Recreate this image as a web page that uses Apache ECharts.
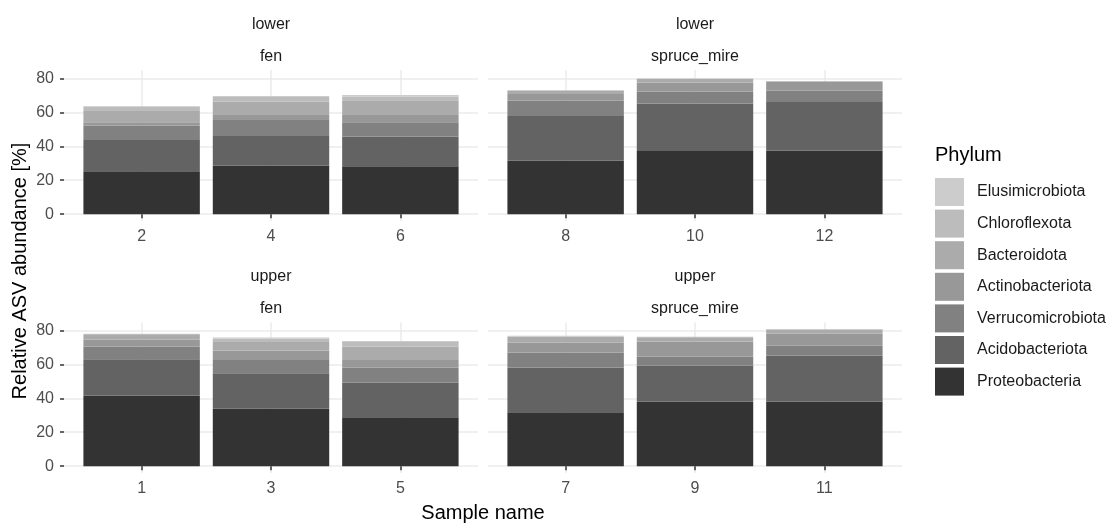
<!DOCTYPE html>
<html>
<head>
<meta charset="utf-8">
<script src="https://cdn.jsdelivr.net/npm/echarts@6/dist/echarts.min.js"></script>
<style>
  html, body { margin: 0; padding: 0; background: #fff; }
  #chart { width: 1114px; height: 524px; }
</style>
</head>
<body>
<div id="chart"></div>
<script>
( () => {
    // phyla, bottom of the stack first
    const phyla = [
        'Proteobacteria',
        'Acidobacteriota',
        'Verrucomicrobiota',
        'Actinobacteriota',
        'Bacteroidota',
        'Chloroflexota',
        'Elusimicrobiota',
    ];

    // relative abundance [%] by sample name 1 .. 12
    const sampleNames = [ '1', '2', '3', '4', '5', '6', '7', '8', '9', '10', '11', '12' ];
    const proteobacteria    = [ 41.5, 25.3, 34.0, 28.6, 28.8, 28.2, 31.7, 31.5, 38.0, 37.2, 38.0, 37.3 ];
    const acidobacteriota   = [ 21.5, 18.4, 20.8, 17.5, 20.4, 17.5, 26.5, 26.3, 21.2, 28.0, 27.2, 28.8 ];
    const verrucomicrobiota = [  7.5,  8.4,  7.8,  9.4,  8.8,  8.4,  8.8,  9.1,  5.4,  6.9,  5.7,  6.6 ];
    const actinobacteriota  = [  4.0,  2.0,  5.4,  2.9,  4.5,  4.3,  5.9,  3.9,  8.9,  5.3,  7.1,  5.5 ];
    const bacteroidota      = [  3.3,  6.7,  5.1,  7.9,  7.9,  8.8,  3.3,  2.0,  2.5,  2.4,  2.6,  0.1 ];
    const chloroflexota     = [  0.1,  2.6,  2.2,  2.8,  2.8,  2.2,  0.4,  0.2,  0.2,  0.1,  0.1,  0.05 ];
    const elusimicrobiota   = [  0.1,  0.3,  0.5,  0.5,  0.6,  0.8,  0.2,  0.1,  0.1,  0.1,  0.1,  0.05 ];

    const values = [
        proteobacteria,
        acidobacteriota,
        verrucomicrobiota,
        actinobacteriota,
        bacteroidota,
        chloroflexota,
        elusimicrobiota,
    ];

    // facets: depth x site
    const facets = [
        { depth: 'lower', site: 'fen',         samples: [ '2', '4', '6' ] },
        { depth: 'lower', site: 'spruce_mire', samples: [ '8', '10', '12' ] },
        { depth: 'upper', site: 'fen',         samples: [ '1', '3', '5' ] },
        { depth: 'upper', site: 'spruce_mire', samples: [ '7', '9', '11' ] },
    ];

    const yTicks = [ 0, 20, 40, 60, 80 ];

    const colors = [ '#333333', '#636363', '#818181', '#989898', '#ababab', '#bcbcbc', '#cccccc' ];
    const font = 'Liberation Sans, Arial, sans-serif';

    const panelLeft = [ 64, 488 ];
    const panelTop = [ 70.2, 322.2 ];
    const panelWidth = 414;
    const panelHeight = 150.8;
    // ggplot pads a discrete axis by 0.6 of a band on each side
    const band = panelWidth / 3.2;

    const grids = [];
    const xAxes = [];
    const yAxes = [];
    const series = [];
    const graphics = [];

    const yRange = { min: -4.04, max: 84.84 };

    facets.forEach( ( f, i ) => {
        const col = i % 2;
        const row = Math.floor( i / 2 );
        const isLeft = col === 0;
        const g = i * 2;

        // full panel: grid lines, ticks, labels
        grids.push( {
            left: panelLeft[ col ],
            top: panelTop[ row ],
            width: panelWidth,
            height: panelHeight,
            outerBoundsMode: 'none',
        } );
        // bar area: three bands in the middle of the panel
        grids.push( {
            left: panelLeft[ col ] + band * 0.1,
            top: panelTop[ row ],
            width: band * 3,
            height: panelHeight,
            outerBoundsMode: 'none',
        } );

        xAxes.push( {
            type: 'value',
            gridIndex: g,
            min: 0.4,
            max: 3.6,
            axisLine: { show: false },
            axisTick: {
                show: true,
                customValues: [ 1, 2, 3 ],
                length: 4,
                lineStyle: { color: '#333333', width: 1.5 },
            },
            axisLabel: {
                customValues: [ 1, 2, 3 ],
                formatter: ( v ) => f.samples[ Math.round( v ) - 1 ],
                fontFamily: font,
                fontSize: 16,
                color: '#4d4d4d',
                margin: 8,
            },
            splitLine: {
                show: true,
                lineStyle: { color: '#ebebeb', width: 1.5 },
            },
        } );
        xAxes.push( {
            type: 'category',
            gridIndex: g + 1,
            data: f.samples,
            show: false,
        } );

        yAxes.push( {
            type: 'value',
            gridIndex: g,
            min: yRange.min,
            max: yRange.max,
            axisLine: { show: false },
            axisTick: {
                show: isLeft,
                customValues: yTicks,
                length: 4,
                lineStyle: { color: '#333333', width: 1.5 },
            },
            axisLabel: {
                show: isLeft,
                customValues: yTicks,
                fontFamily: font,
                fontSize: 16,
                color: '#4d4d4d',
                margin: 10,
            },
            splitLine: {
                show: true,
                lineStyle: { color: '#ebebeb', width: 1.5 },
            },
        } );
        yAxes.push( {
            type: 'value',
            gridIndex: g + 1,
            min: yRange.min,
            max: yRange.max,
            show: false,
            splitLine: { show: false },
        } );

        phyla.forEach( ( name, p ) => {
            series.push( {
                type: 'bar',
                name: name,
                xAxisIndex: g + 1,
                yAxisIndex: g + 1,
                stack: 'facet' + i,
                barWidth: '90%',
                itemStyle: { color: colors[ p ] },
                emphasis: { disabled: true },
                data: f.samples.map( ( s ) => values[ p ][ sampleNames.indexOf( s ) ] ),
            } );
        } );

        const cx = panelLeft[ col ] + panelWidth / 2;
        const sy = panelTop[ row ] - 46;
        graphics.push( {
            type: 'text',
            x: cx,
            y: sy,
            style: {
                text: f.depth,
                fontFamily: font,
                fontSize: 16,
                fill: '#1a1a1a',
                align: 'center',
                verticalAlign: 'middle',
            },
        } );
        graphics.push( {
            type: 'text',
            x: cx,
            y: sy + 32,
            style: {
                text: f.site,
                fontFamily: font,
                fontSize: 16,
                fill: '#1a1a1a',
                align: 'center',
                verticalAlign: 'middle',
            },
        } );
    } );

    graphics.push( {
        type: 'text',
        x: 483,
        y: 513,
        style: {
            text: 'Sample name',
            fontFamily: font,
            fontSize: 20,
            fill: '#000',
            align: 'center',
            verticalAlign: 'middle',
        },
    } );
    graphics.push( {
        type: 'text',
        x: 20,
        y: 271,
        rotation: Math.PI / 2,
        style: {
            text: 'Relative ASV abundance [%]',
            fontFamily: font,
            fontSize: 20,
            fill: '#000',
            align: 'center',
            verticalAlign: 'middle',
        },
    } );
    graphics.push( {
        type: 'text',
        x: 935,
        y: 155,
        style: {
            text: 'Phylum',
            fontFamily: font,
            fontSize: 20,
            fill: '#000',
            align: 'left',
            verticalAlign: 'middle',
        },
    } );

    const chart = echarts.init( document.getElementById( 'chart' ), null, { renderer: 'canvas' } );

    chart.setOption( {
        animation: false,
        backgroundColor: '#ffffff',
        grid: grids,
        xAxis: xAxes,
        yAxis: yAxes,
        legend: {
            orient: 'vertical',
            left: 935,
            top: 178,
            padding: 0,
            itemWidth: 29,
            itemHeight: 28,
            itemGap: 3.6,
            icon: 'rect',
            selectedMode: false,
            data: phyla.slice().reverse(),
            textStyle: {
                fontFamily: font,
                fontSize: 16,
                color: '#1a1a1a',
                padding: [ 0, 0, 0, 8 ],
            },
        },
        graphic: graphics,
        series: series,
    } );
} ) ();
</script>
</body>
</html>
